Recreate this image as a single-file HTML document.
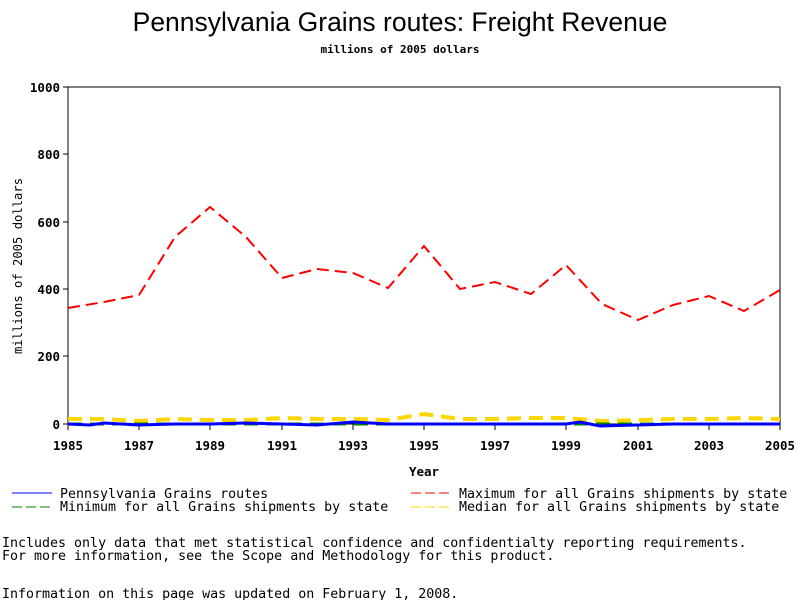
<!DOCTYPE html>
<html><head><meta charset="utf-8"><style>
body{margin:0;background:#fff;width:800px;height:600px;overflow:hidden}
svg{display:block}
text{font-family:"DejaVu Sans Mono","Liberation Mono",monospace;font-weight:bold}
text.n{font-weight:normal}
</style></head><body>
<svg width="800" height="600" viewBox="0 0 800 600">
<text x="400" y="31" text-anchor="middle" style="font-family:'Liberation Sans',sans-serif;font-weight:normal" font-size="26.5">Pennsylvania Grains routes: Freight Revenue</text>
<text x="400" y="53" text-anchor="middle" font-size="11">millions of 2005 dollars</text>
<rect x="68" y="87" width="712" height="337" fill="none" stroke="#000" stroke-width="1"/>
<g stroke="#000">
<line x1="63" y1="87" x2="68" y2="87"/><line x1="63" y1="154" x2="68" y2="154"/><line x1="63" y1="222" x2="68" y2="222"/><line x1="63" y1="289" x2="68" y2="289"/><line x1="63" y1="356" x2="68" y2="356"/><line x1="63" y1="424" x2="68" y2="424"/>
<line x1="68" y1="424" x2="68" y2="430"/><line x1="139" y1="424" x2="139" y2="430"/><line x1="210" y1="424" x2="210" y2="430"/><line x1="282" y1="424" x2="282" y2="430"/><line x1="353" y1="424" x2="353" y2="430"/><line x1="424" y1="424" x2="424" y2="430"/><line x1="495" y1="424" x2="495" y2="430"/><line x1="566" y1="424" x2="566" y2="430"/><line x1="638" y1="424" x2="638" y2="430"/><line x1="709" y1="424" x2="709" y2="430"/><line x1="780" y1="424" x2="780" y2="430"/>
</g>
<g font-size="12.5" text-anchor="end">
<text x="60" y="92">1000</text><text x="60" y="159">800</text><text x="60" y="227">600</text><text x="60" y="294">400</text><text x="60" y="361">200</text><text x="60" y="429">0</text>
</g>
<g font-size="12.5" text-anchor="middle">
<text x="68" y="450">1985</text><text x="139" y="450">1987</text><text x="210" y="450">1989</text><text x="282" y="450">1991</text><text x="353" y="450">1993</text><text x="424" y="450">1995</text><text x="495" y="450">1997</text><text x="566" y="450">1999</text><text x="638" y="450">2001</text><text x="709" y="450">2003</text><text x="780" y="450">2005</text>
</g>
<text x="424" y="476" text-anchor="middle" font-size="12.5">Year</text>
<text class="n" transform="translate(22,266) rotate(-90)" text-anchor="middle" font-size="12.2">millions of 2005 dollars</text>
<polyline fill="none" stroke="#ffd700" stroke-width="4" stroke-dasharray="14,8" points="68,419 104,419 139,421 175,419 210,420 246,420 282,418 317,419 353,419 388,420 424,414 460,419 495,419 531,418 566,418 602,421 638,420 673,419 709,419 744,418 780,419"/>
<polyline fill="none" stroke="#008000" stroke-width="3" stroke-dasharray="14,8" points="68,424 780,424"/>
<polyline fill="none" stroke="#0000ff" stroke-width="3" points="68,424 90,425 104,423 139,425 175,424 210,424 246,423 282,424 317,425 353,422 388,424 424,424 566,424 580,422 600,426 638,425 673,424 780,424"/>
<polyline fill="none" stroke="#ff0000" stroke-width="2" stroke-dasharray="12,6" points="68,308 104,302 139,295 175,237 210,207 246,237 282,278 317,269 353,273 388,288 424,246 460,289 495,282 531,294 566,265 602,304 638,320 673,305 709,296 744,311 780,290"/>
<line x1="12" y1="493" x2="52" y2="493" stroke="#0000ff"/>
<text class="n" x="60" y="498" font-size="13.3">Pennsylvania Grains routes</text>
<line x1="12" y1="507" x2="52" y2="507" stroke="#008000" stroke-dasharray="10,4"/>
<text class="n" x="60" y="511" font-size="13.3">Minimum for all Grains shipments by state</text>
<line x1="411" y1="493" x2="451" y2="493" stroke="#ff0000" stroke-dasharray="10,4"/>
<text class="n" x="459" y="498" font-size="13.3">Maximum for all Grains shipments by state</text>
<line x1="411" y1="507" x2="451" y2="507" stroke="#ffd700" stroke-dasharray="10,4"/>
<text class="n" x="459" y="511" font-size="13.3">Median for all Grains shipments by state</text>
<text class="n" x="2" y="547" font-size="13.3">Includes only data that met statistical confidence and confidentialty reporting requirements.</text>
<text class="n" x="2" y="560" font-size="13.3">For more information, see the Scope and Methodology for this product.</text>
<text class="n" x="2" y="598" font-size="13.3">Information on this page was updated on February 1, 2008.</text>
</svg>
</body></html>
